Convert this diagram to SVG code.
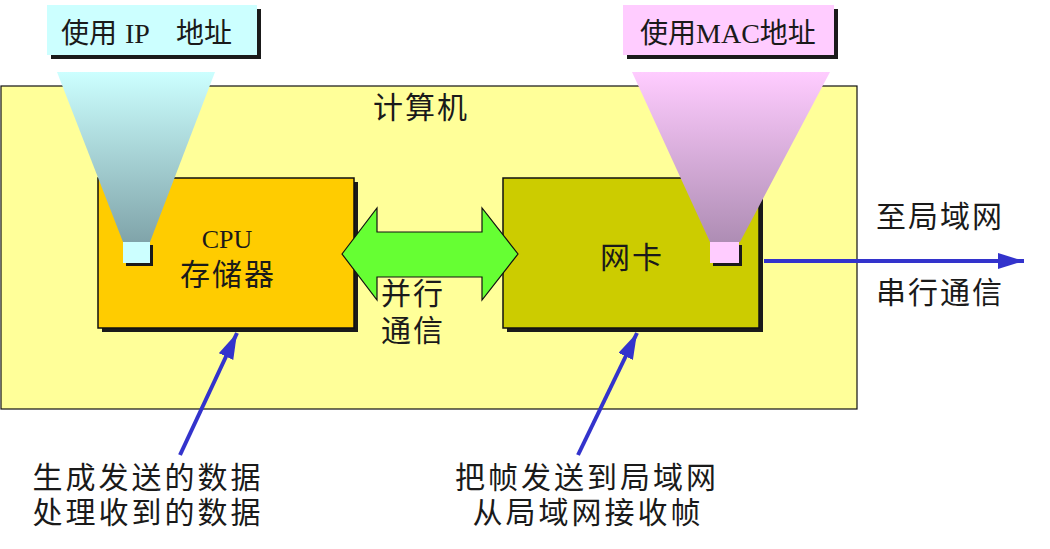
<svg xmlns="http://www.w3.org/2000/svg" width="1050" height="549" viewBox="0 0 1050 549">
<style>
.cjk{font-family:"Noto Sans CJK SC","Noto Sans",sans-serif;font-size:30px;fill:#1a1a1a;letter-spacing:2px}
.ser{font-family:"Liberation Serif","Noto Sans CJK SC",serif;fill:#1a1a1a}
.shadow{fill:#1a1a1a}
.box{stroke:#111;stroke-width:1.5}
.blue{stroke:#3333CC;stroke-width:4;fill:none}
</style>
<defs>
<linearGradient id="gc" x1="0" y1="0" x2="0" y2="1">
<stop offset="0" stop-color="#CCFFFF"/>
<stop offset="1" stop-color="#80A4AA"/>
</linearGradient>
<linearGradient id="gm" x1="0" y1="0" x2="0" y2="1">
<stop offset="0" stop-color="#FFCCFF"/>
<stop offset="1" stop-color="#AE8DB4"/>
</linearGradient>
<marker id="ah" markerUnits="userSpaceOnUse" markerWidth="28" markerHeight="18" refX="26" refY="8" orient="auto">
<path d="M0,0 L26,8 L0,16 Z" fill="#3333CC"/>
</marker>
</defs>

<g id="computer">
<rect x="1" y="86" width="856" height="323" fill="#FFFF99" stroke="#111" stroke-width="1.2"/>
<text class="cjk" x="421" y="118" text-anchor="middle">计算机</text>
</g>

<g id="cpu">
<rect class="shadow" x="102" y="182" width="256" height="150"/>
<rect class="box" x="98" y="178" width="256" height="150" fill="#FFCC00"/>
<text class="ser" x="227" y="248" text-anchor="middle" font-size="26">CPU</text>
<text class="cjk" x="228" y="285" text-anchor="middle">存储器</text>
</g>

<g id="nic">
<rect class="shadow" x="507" y="182" width="256" height="150"/>
<rect class="box" x="503" y="178" width="256" height="150" fill="#CCCC00"/>
<text class="cjk" x="632" y="268" text-anchor="middle">网卡</text>
</g>

<g id="ip-label">
<rect class="shadow" x="51" y="9" width="210" height="50"/>
<rect x="47" y="5" width="210" height="50" fill="#CCFFFF"/>
<text class="ser" y="43" font-size="28"><tspan x="61" font-family="Noto Sans CJK SC">使用</tspan><tspan x="125">IP</tspan><tspan x="176" font-family="Noto Sans CJK SC">地址</tspan></text>
</g>

<g id="ip-funnel">
<polygon points="57,72 215,72 150,242 123,242" fill="url(#gc)"/>
<rect class="shadow" x="126" y="245" width="27" height="21"/>
<rect x="123" y="242" width="27" height="21" fill="#CCFFFF"/>
</g>

<g id="mac-label">
<rect class="shadow" x="627" y="9" width="211" height="50"/>
<rect x="623" y="5" width="211" height="50" fill="#FFCCFF"/>
<text class="ser" y="43" font-size="28"><tspan x="640" font-family="Noto Sans CJK SC">使用</tspan><tspan>MAC</tspan><tspan font-family="Noto Sans CJK SC">地址</tspan></text>
</g>

<g id="mac-funnel">
<polygon points="632,72 830,72 740,242 710,242" fill="url(#gm)"/>
<rect class="shadow" x="713" y="245" width="29" height="21"/>
<rect x="710" y="242" width="29" height="21" fill="#FFCCFF"/>
</g>

<g id="connectors">
<polygon points="342,254 377,208 377,232 482,232 482,208 518,254 482,300 482,277 377,277 377,300" fill="#66FF33" stroke="#111" stroke-width="1.2"/>
<line class="blue" x1="764" y1="261" x2="1024" y2="261" marker-end="url(#ah)"/>
<line class="blue" x1="180" y1="455" x2="237" y2="333" marker-end="url(#ah)"/>
<line class="blue" x1="578" y1="455" x2="637" y2="333" marker-end="url(#ah)"/>
</g>

<g id="labels">
<text class="cjk" x="413" y="304" text-anchor="middle">并行</text>
<text class="cjk" x="413" y="341" text-anchor="middle">通信</text>
<text class="cjk" x="940" y="227" text-anchor="middle">至局域网</text>
<text class="cjk" x="940" y="303" text-anchor="middle">串行通信</text>
<text class="cjk" x="148" y="488" text-anchor="middle" style="letter-spacing:3px">生成发送的数据</text>
<text class="cjk" x="148" y="523" text-anchor="middle" style="letter-spacing:3px">处理收到的数据</text>
<text class="cjk" x="587" y="488" text-anchor="middle" style="letter-spacing:3px">把帧发送到局域网</text>
<text class="cjk" x="588" y="523" text-anchor="middle" style="letter-spacing:3px">从局域网接收帧</text>
</g>
</svg>
